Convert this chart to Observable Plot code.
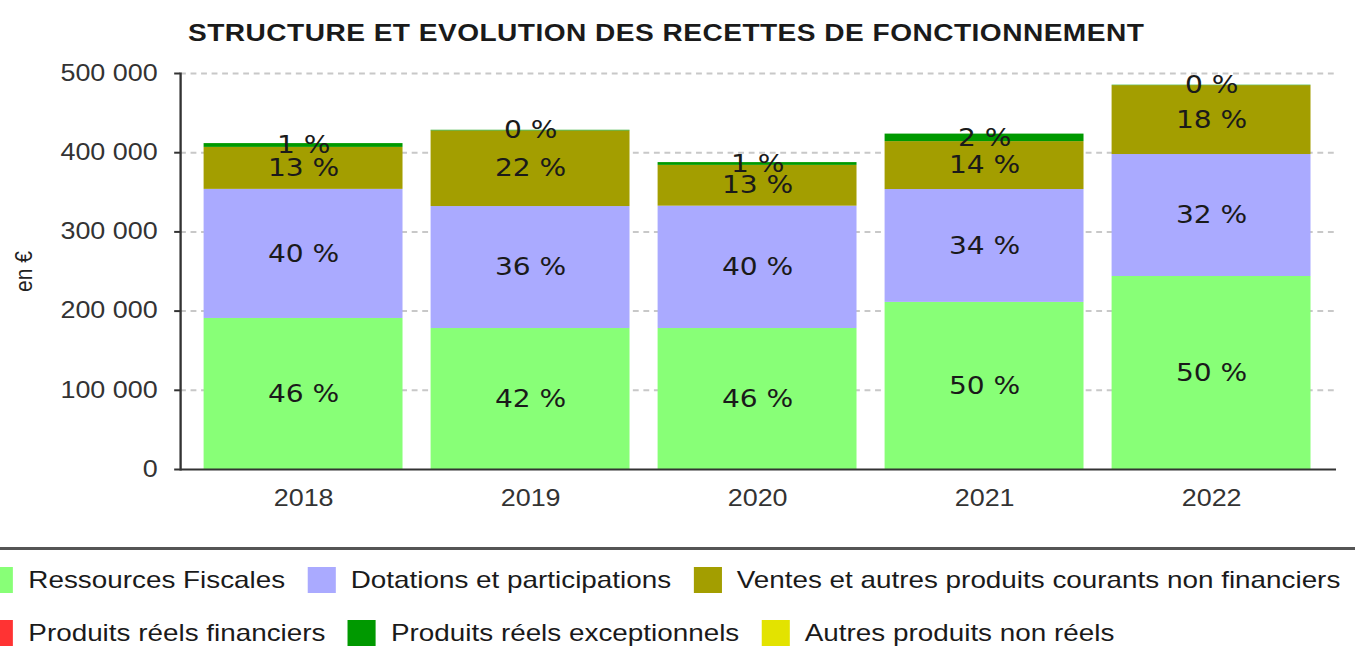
<!DOCTYPE html>
<html><head><meta charset="utf-8">
<script src="https://cdn.jsdelivr.net/npm/d3@7"></script>
<script src="https://cdn.jsdelivr.net/npm/@observablehq/plot@0.6"></script>
<style>
html,body{margin:0;padding:0;background:#fff;overflow:hidden;width:1355px;height:658px;}
#wrap{position:absolute;left:0;top:0;width:1158px;height:658px;transform:scaleX(1.1701);transform-origin:0 0;}
#title{position:absolute;left:160.7px;top:20.7px;font:bold 24px "Liberation Sans",Arial,sans-serif;line-height:24px;letter-spacing:0.4px;color:#1a1a1a;white-space:nowrap;}
#chart{position:absolute;left:0;top:50px;}
#legend{position:absolute;left:-2px;top:547px;width:1162px;height:120px;border-top:3px solid #555;background:#fff;}
.row{position:absolute;left:-10.8px;height:30px;display:flex;align-items:center;white-space:nowrap;font:23.8px "Liberation Sans",Arial,sans-serif;color:#1a1a1a;}
.sw{width:24px;height:26px;margin-right:13px;flex:none;}
.lab{margin-right:19px;}
</style></head><body>
<div id="wrap">
  <div id="title"></div>
  <div id="chart"></div>
  <div id="legend"></div>
</div>
<script>
const titleText = "STRUCTURE ET EVOLUTION DES RECETTES DE FONCTIONNEMENT";
const yLabel = "en €";
const years = ["2018", "2019", "2020", "2021", "2022"];
const categories = [
  "Ressources Fiscales",
  "Dotations et participations",
  "Ventes et autres produits courants non financiers",
  "Produits réels financiers",
  "Produits réels exceptionnels",
  "Autres produits non réels"
];
const colors = ["#88ff77", "#aaaaff", "#a39e00", "#ff3333", "#009900", "#e3e300"];
const ressourcesFiscales = [190700, 178000, 178000, 211000, 243700];
const dotations          = [163000, 154000, 154500, 142500, 154000];
const ventes             = [53000, 95500, 51500, 60500, 87000];
const financiers         = [0, 0, 0, 0, 0];
const exceptionnels      = [4800, 800, 3500, 9500, 500];
const autresNonReels     = [0, 0, 0, 0, 0];
const yTicks = [0, 100000, 200000, 300000, 400000, 500000];

const series = [ressourcesFiscales, dotations, ventes, financiers, exceptionnels, autresNonReels];
const data = [];
years.forEach((yr, i) => {
  const total = series.reduce((s, a) => s + a[i], 0);
  categories.forEach((c, j) => {
    data.push({year: yr, cat: c, value: series[j][i], pct: Math.round(series[j][i] / total * 100) + " %"});
  });
});

const fmt = d3.formatLocale({thousands: " ", grouping: [3], decimal: ",", currency: ["", ""]}).format(",d");

document.getElementById("title").textContent = titleText;

const chart = Plot.plot({
  width: 1158,
  height: 480,
  marginTop: 23,
  marginBottom: 61,
  marginLeft: 153.85,
  marginRight: 16.2,
  style: {fontFamily: "Liberation Sans, Arial, sans-serif", fontSize: "23px", color: "#333", background: "transparent", overflow: "visible"},
  x: {domain: years, paddingInner: 0.124, paddingOuter: 0.062, insetLeft: 7.6, insetRight: 9.3, label: null},
  y: {domain: [0, 500000], label: null},
  color: {domain: categories, range: colors},
  marks: [
    Plot.ruleY(yTicks.slice(1), {stroke: "#c8c8c8", strokeWidth: 2, strokeDasharray: "5,4"}),
    Plot.barY(data, {x: "year", y: "value", fill: "cat"}),
    Plot.ruleY([0], {stroke: "#333", strokeWidth: 2}),
    Plot.frame({anchor: "left", stroke: "#333", strokeWidth: 2}),
    Plot.axisY({ticks: yTicks, tickFormat: fmt, tickSize: 5, tickPadding: 14.6, strokeWidth: 2, fontSize: 23}),
    Plot.axisX({tickSize: 0, tickPadding: 20, fontSize: 23}),
    Plot.text(data, Plot.stackY({x: "year", y: "value", z: "cat", text: "pct", filter: d => d.value > 0,
      fontFamily: "DejaVu Sans", fontSize: 24, fill: "#1a1a1a"})),
    Plot.text([yLabel], {text: d => d, frameAnchor: "left", textAnchor: "middle", dx: -127.4, rotate: -90, lineAnchor: "bottom", fontSize: 21, fill: "#222"})
  ]
});
document.getElementById("chart").appendChild(chart);

const legend = document.getElementById("legend");
[[0, 1, 2], [3, 4, 5]].forEach((idx, r) => {
  const row = document.createElement("div");
  row.className = "row";
  row.style.top = (r === 0 ? 15 : 68) + "px";
  idx.forEach(j => {
    const sw = document.createElement("span");
    sw.className = "sw";
    sw.style.background = colors[j];
    const lab = document.createElement("span");
    lab.className = "lab";
    lab.textContent = categories[j];
    row.appendChild(sw);
    row.appendChild(lab);
  });
  legend.appendChild(row);
});
</script>
</body></html>
